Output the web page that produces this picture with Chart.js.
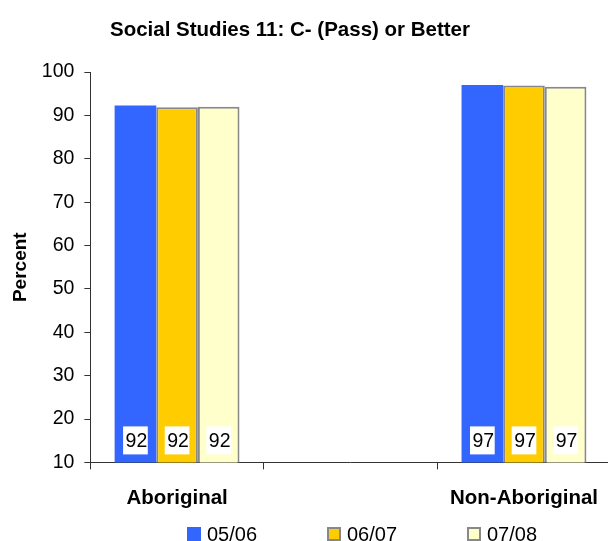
<!DOCTYPE html>
<html>
<head>
<meta charset="utf-8">
<script src="https://cdn.jsdelivr.net/npm/chart.js@4"></script>
<style>
  html, body { margin: 0; padding: 0; background: #fff; overflow: hidden; }
  #wrap { width: 615px; height: 541px; }
</style>
</head>
<body>
<div id="wrap"><canvas id="chart"></canvas></div>
<script>
// ===== Data =====
const categories = ['Aboriginal', '', 'Non-Aboriginal'];
const seriesNames = ['05/06', '06/07', '07/08'];
const values0506 = [92.3, null, 97.0];
const values0607 = [91.9, null, 96.9];
const values0708 = [92.0, null, 96.6];
const yTicks = [10, 20, 30, 40, 50, 60, 70, 80, 90, 100];

const FONT = "'Liberation Sans', Arial, sans-serif";
const chartTitle = 'Social Studies 11: C- (Pass) or Better';

// title + legend drawn by hand so they sit where the original has them
const titleLegendPlugin = {
    id: 'titleLegend',
    afterDraw(chart) {
        const ctx = chart.ctx;
        ctx.save();
        ctx.fillStyle = '#000';
        ctx.font = 'bold 20.5px ' + FONT;
        ctx.textAlign = 'center';
        ctx.textBaseline = 'middle';
        ctx.fillText(chartTitle, 290, 30);

        const legendX = [187, 327, 467];
        ctx.font = '20px ' + FONT;
        ctx.textAlign = 'left';
        chart.data.datasets.forEach((ds, i) => {
            const x = legendX[i], y = 534;
            ctx.fillStyle = ds.backgroundColor;
            ctx.fillRect(x, y - 7, 14, 14);
            if (ds.borderWidth) {
                ctx.strokeStyle = ds.borderColor;
                ctx.lineWidth = 2;
                ctx.strokeRect(x + 1, y - 6, 12, 12);
            }
            ctx.fillStyle = '#000';
            ctx.fillText(ds.label, x + 20, y + 1);
        });
        ctx.restore();
    }
};

// value boxes at the foot of each bar
const valueLabelPlugin = {
    id: 'valueLabels',
    afterDatasetsDraw(chart) {
        const ctx = chart.ctx;
        const bottom = chart.chartArea.bottom;
        ctx.save();
        ctx.font = '19.5px ' + FONT;
        ctx.textAlign = 'center';
        ctx.textBaseline = 'middle';
        chart.data.datasets.forEach((ds, i) => {
            chart.getDatasetMeta(i).data.forEach((bar, j) => {
                const v = ds.data[j];
                if (v == null) return;
                const txt = String(Math.round(v));
                const w = ctx.measureText(txt).width + 3;
                ctx.fillStyle = '#fff';
                ctx.fillRect(bar.x - w / 2, bottom - 36, w, 28);
                ctx.fillStyle = '#000';
                ctx.fillText(txt, bar.x + 1, bottom - 21);
            });
        });
        ctx.restore();
    }
};

const ctx = document.getElementById('chart').getContext('2d');
new Chart(ctx, {
    type: 'bar',
    data: {
        labels: categories,
        datasets: [
            { label: seriesNames[0], data: values0506, backgroundColor: '#3366FF', borderWidth: 0 },
            { label: seriesNames[1], data: values0607, backgroundColor: '#FFCC00', borderColor: '#888888', borderWidth: 2 },
            { label: seriesNames[2], data: values0708, backgroundColor: '#FFFFCC', borderColor: '#888888', borderWidth: 2 }
        ]
    },
    options: {
        responsive: true,
        maintainAspectRatio: false,
        animation: false,
        categoryPercentage: 0.72,
        barPercentage: 1.0,
        layout: { padding: { top: 72, left: 0, right: 0, bottom: 13 } },
        plugins: {
            legend: { display: false },
            title: { display: false },
            tooltip: { enabled: false }
        },
        scales: {
            x: {
                grid: { drawOnChartArea: false, tickLength: 7, color: '#333', offset: true },
                border: { color: '#333' },
                ticks: {
                    color: '#000',
                    font: { family: FONT, size: 20.5, weight: 'bold' },
                    padding: 17,
                    maxRotation: 0,
                    autoSkip: false
                }
            },
            y: {
                min: 10,
                max: 100,
                beginAtZero: false,
                afterBuildTicks: (scale) => { scale.ticks = yTicks.map(v => ({ value: v })); },
                grid: { drawOnChartArea: false, tickLength: 6, color: '#333' },
                border: { color: '#333' },
                ticks: {
                    color: '#000',
                    font: { family: FONT, size: 19.5 },
                    padding: 10
                },
                title: {
                    display: true,
                    text: 'Percent',
                    color: '#000',
                    font: { family: FONT, size: 19, weight: 'bold' },
                    padding: { top: 9, bottom: 0 }
                }
            }
        }
    },
    plugins: [titleLegendPlugin, valueLabelPlugin]
});
</script>
</body>
</html>
